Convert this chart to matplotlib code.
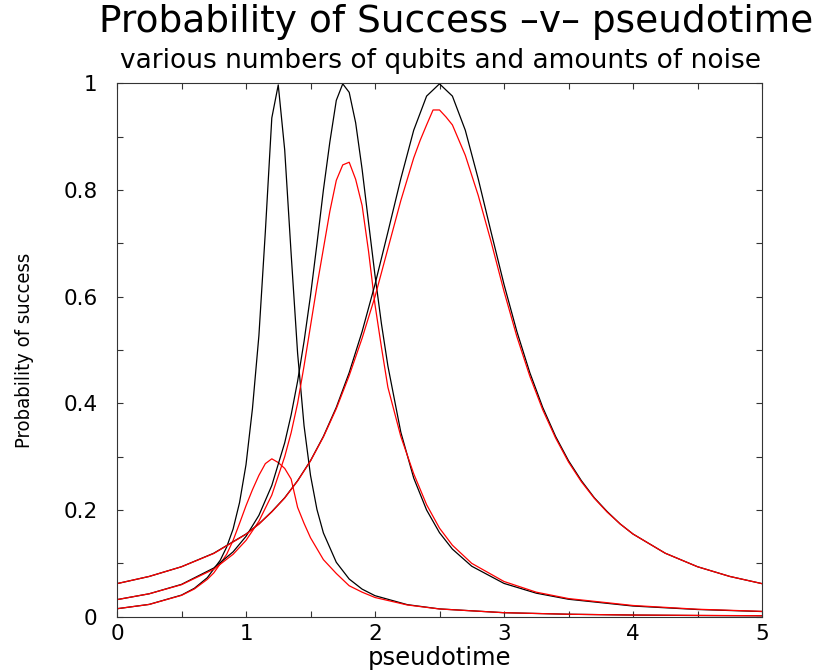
import matplotlib
matplotlib.use('Agg')
import matplotlib.pyplot as plt
from matplotlib.ticker import FixedLocator, FixedFormatter, MultipleLocator

# ---- success probability curves: clean (black) and noisy (red) runs ----
# few qubits, sharp peak
t_a = [0, 0.25, 0.5, 0.6, 0.7, 0.8, 0.85, 0.9, 0.95, 1.0, 1.05, 1.1, 1.15, 1.2, 1.25,
       1.3, 1.35, 1.4, 1.45, 1.5, 1.55, 1.6, 1.7, 1.8, 1.9, 2.0, 2.25, 2.5, 3.0, 3.5,
       4.0, 4.5, 5.0]
clean_a = [0.0149, 0.0231, 0.0405, 0.0533, 0.0731, 0.1057, 0.1305, 0.1644, 0.214, 0.285,
           0.39, 0.527, 0.722, 0.935, 0.997, 0.875, 0.680, 0.494, 0.358, 0.265, 0.201,
           0.157, 0.102, 0.0706, 0.0517, 0.0394, 0.0226, 0.0146, 0.0075, 0.0046, 0.0031,
           0.0022, 0.0017]

t_a_noisy = [0, 0.25, 0.5, 0.6, 0.7, 0.75, 0.8, 0.85, 0.9, 0.95, 1.0, 1.05, 1.1, 1.15,
             1.2, 1.25, 1.3, 1.35, 1.4, 1.45, 1.5, 1.6, 1.7, 1.8, 1.9, 2.0, 2.25, 2.5,
             3.0, 3.5, 4.0, 5.0]
noisy_a = [0.015, 0.023, 0.040, 0.052, 0.070, 0.082, 0.099, 0.117, 0.143, 0.175, 0.208,
           0.238, 0.265, 0.287, 0.296, 0.289, 0.278, 0.258, 0.205, 0.175, 0.148, 0.107,
           0.081, 0.058, 0.046, 0.036, 0.022, 0.0145, 0.0075, 0.0046, 0.0031, 0.0018]

# middle case
t_b = [0, 0.25, 0.5, 0.75, 0.9, 1.0, 1.1, 1.2, 1.3, 1.35, 1.4, 1.45, 1.5, 1.55, 1.6,
       1.65, 1.7, 1.75, 1.8, 1.85, 1.9, 1.95, 2.0, 2.05, 2.1, 2.2, 2.3, 2.4, 2.5, 2.6,
       2.75, 3.0, 3.25, 3.5, 4.0, 4.5, 5.0]
clean_b = [0.032, 0.043, 0.0606, 0.0912, 0.1216, 0.1506, 0.190, 0.246, 0.326, 0.3785,
           0.4414, 0.516, 0.602, 0.699, 0.800, 0.890, 0.968, 0.999, 0.983, 0.926, 0.839,
           0.739, 0.640, 0.549, 0.470, 0.346, 0.260, 0.200, 0.1575, 0.1267, 0.0946,
           0.0624, 0.0441, 0.0327, 0.0200, 0.0135, 0.0097]
noisy_b = [0.032, 0.043, 0.060, 0.089, 0.117, 0.143, 0.179, 0.228, 0.300, 0.345, 0.400,
           0.470, 0.545, 0.620, 0.690, 0.760, 0.818, 0.847, 0.852, 0.820, 0.771, 0.685,
           0.585, 0.505, 0.430, 0.338, 0.268, 0.210, 0.166, 0.134, 0.100, 0.066, 0.046,
           0.034, 0.021, 0.014, 0.010]

# many qubits, broad peak
t_c = [0, 0.25, 0.5, 0.75, 1.0, 1.1, 1.2, 1.3, 1.4, 1.5, 1.6, 1.7, 1.8, 1.9, 2.0, 2.1,
       2.2, 2.3, 2.4, 2.5, 2.6, 2.7, 2.8, 2.9, 3.0, 3.1, 3.2, 3.3, 3.4, 3.5, 3.6, 3.7,
       3.8, 3.9, 4.0, 4.25, 4.5, 4.75, 5.0]
clean_c = [0.062, 0.0755, 0.0937, 0.119, 0.155, 0.174, 0.197, 0.223, 0.255, 0.2925,
           0.338, 0.3925, 0.4576, 0.5345, 0.623, 0.721, 0.821, 0.912, 0.976, 0.999,
           0.976, 0.912, 0.821, 0.721, 0.623, 0.5345, 0.4576, 0.3925, 0.338, 0.2925,
           0.255, 0.223, 0.197, 0.174, 0.155, 0.119, 0.0937, 0.0755, 0.062]

t_c_noisy = [0, 0.25, 0.5, 0.75, 1.0, 1.1, 1.2, 1.3, 1.4, 1.5, 1.6, 1.7, 1.8, 1.9, 2.0,
             2.1, 2.2, 2.3, 2.35, 2.4, 2.45, 2.5, 2.55, 2.6, 2.7, 2.8, 2.9, 3.0, 3.1,
             3.2, 3.3, 3.4, 3.5, 3.6, 3.7, 3.8, 3.9, 4.0, 4.25, 4.5, 4.75, 5.0]
noisy_c = [0.062, 0.0755, 0.0936, 0.1185, 0.1545, 0.1735, 0.1965, 0.2225, 0.2545, 0.292,
           0.337, 0.390, 0.452, 0.522, 0.600, 0.690, 0.780, 0.860, 0.893, 0.922, 0.950,
           0.950, 0.937, 0.922, 0.865, 0.790, 0.703, 0.610, 0.525, 0.451, 0.388, 0.335,
           0.290, 0.253, 0.222, 0.196, 0.174, 0.155, 0.119, 0.0937, 0.0755, 0.062]

xticks = [0, 1, 2, 3, 4, 5]
xticklabels = ['0', '1', '2', '3', '4', '5']
yticks = [0, 0.2, 0.4, 0.6, 0.8, 1.0]
yticklabels = ['0', '0.2', '0.4', '0.6', '0.8', '1']

fig = plt.figure(figsize=(8.34, 6.71), dpi=100)
ax = fig.add_axes([117 / 834, 54.3 / 671, 645 / 834, 533.4 / 671])

for t, clean, t_n, noisy in [(t_a, clean_a, t_a_noisy, noisy_a),
                             (t_b, clean_b, t_b, noisy_b),
                             (t_c, clean_c, t_c_noisy, noisy_c)]:
    ax.plot(t, clean, color='black', lw=0.9)
    ax.plot(t_n, noisy, color='red', lw=0.9)

ax.set_xlim(0, 5)
ax.set_ylim(0, 1)

ax.xaxis.set_major_locator(FixedLocator(xticks))
ax.xaxis.set_major_formatter(FixedFormatter(xticklabels))
ax.xaxis.set_minor_locator(MultipleLocator(0.5))
ax.yaxis.set_major_locator(FixedLocator(yticks))
ax.yaxis.set_major_formatter(FixedFormatter(yticklabels))
ax.yaxis.set_minor_locator(MultipleLocator(0.1))

ax.tick_params(which='both', direction='in', top=True, right=True,
               length=4.3, width=0.8, color='#333333')
ax.tick_params(axis='x', pad=5, labelsize=15.5)
ax.tick_params(axis='y', pad=14, labelsize=15.5)
for sp in ax.spines.values():
    sp.set_linewidth(0.8)
    sp.set_color('#333333')

ax.set_xlabel('pseudotime', fontsize=17.5, va='baseline')
ax.xaxis.set_label_coords(0.5, (6 - 54.3) / 533.4)
ax.set_ylabel('Probability of success', fontsize=14.5, va='center',
              family='DejaVu Sans', fontstretch='condensed')
ax.yaxis.set_label_coords((24 - 116.7) / 645, 0.5)

fig.text(456 / 834, 1 - 31.7 / 671, 'Probability of Success \u2013v\u2013 pseudotime',
         ha='center', va='baseline', fontsize=27)
fig.text(440 / 834, 1 - 68.3 / 671, 'various numbers of qubits and amounts of noise',
         ha='center', va='baseline', fontsize=19)

fig.savefig('out.png', dpi=100)
